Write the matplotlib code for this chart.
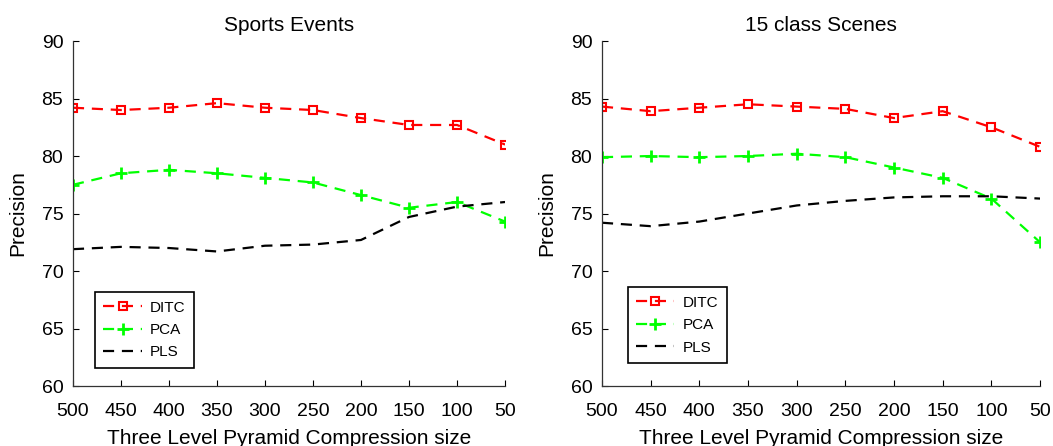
import matplotlib
matplotlib.use('Agg')
import matplotlib.pyplot as plt

plt.rcParams['font.family'] = ['Liberation Sans', 'DejaVu Sans']

sizes = [500, 450, 400, 350, 300, 250, 200, 150, 100, 50]

# Sports Events
sports_ditc = [84.2, 84.0, 84.2, 84.6, 84.2, 84.0, 83.3, 82.7, 82.7, 81.0]
sports_pca = [77.5, 78.5, 78.8, 78.5, 78.1, 77.7, 76.6, 75.5, 76.0, 74.3]
sports_pls = [71.9, 72.1, 72.0, 71.7, 72.2, 72.3, 72.7, 74.7, 75.6, 76.0]

# 15 class Scenes
scenes_ditc = [84.3, 83.9, 84.2, 84.5, 84.3, 84.1, 83.3, 83.9, 82.5, 80.8]
scenes_pca = [79.9, 80.0, 79.9, 80.0, 80.2, 79.9, 79.0, 78.1, 76.3, 72.5]
scenes_pls = [74.2, 73.9, 74.3, 75.0, 75.7, 76.1, 76.4, 76.5, 76.5, 76.3]

fig = plt.figure(figsize=(10.53, 4.46), dpi=100)
ax1 = fig.add_axes([0.0693, 0.1345, 0.4103, 0.7735])
ax2 = fig.add_axes([0.5717, 0.1345, 0.4160, 0.7735])

dash = (0, (5, 3.5))


def draw(ax, title, ditc, pca, pls, leg_anchor):
    ax.plot(sizes, ditc, color='red', linestyle=dash, linewidth=1.6,
            marker='s', markersize=6, markerfacecolor='none',
            markeredgewidth=1.5, label='DITC')
    ax.plot(sizes, pca, color='#00ff00', linestyle=dash, linewidth=1.6,
            marker='+', markersize=9, markeredgewidth=2, label='PCA')
    ax.plot(sizes, pls, color='black', linestyle=dash, linewidth=1.6,
            label='PLS')
    ax.set_xlim(500, 50)
    ax.set_ylim(60, 90)
    ax.set_xticks(sizes)
    ax.set_yticks([60, 65, 70, 75, 80, 85, 90])
    ax.tick_params(direction='in', length=4, labelsize=14, width=0.8)
    ax.tick_params(axis='x', pad=12.5)
    ax.tick_params(axis='y', pad=7)
    for s in ['top', 'right']:
        ax.spines[s].set_visible(False)
    for s in ['left', 'bottom']:
        ax.spines[s].set_linewidth(0.9)
        ax.spines[s].set_color('#333333')
    ax.set_title(title, fontsize=15, pad=7)
    ax.set_xlabel('Three Level Pyramid Compression size', fontsize=15, labelpad=6)
    ax.set_ylabel('Precision', fontsize=15, labelpad=10)
    leg = ax.legend(loc='upper left', bbox_to_anchor=leg_anchor, fontsize=11,
                    fancybox=False, edgecolor='black', framealpha=1,
                    handlelength=2.5, handletextpad=0.55, borderpad=0.55,
                    labelspacing=0.55, borderaxespad=0)
    leg.get_frame().set_linewidth(1.2)


draw(ax1, 'Sports Events', sports_ditc, sports_pca, sports_pls, (0.051, 0.272))
draw(ax2, '15 class Scenes', scenes_ditc, scenes_pca, scenes_pls, (0.059, 0.286))

fig.savefig('out.png', dpi=100)
